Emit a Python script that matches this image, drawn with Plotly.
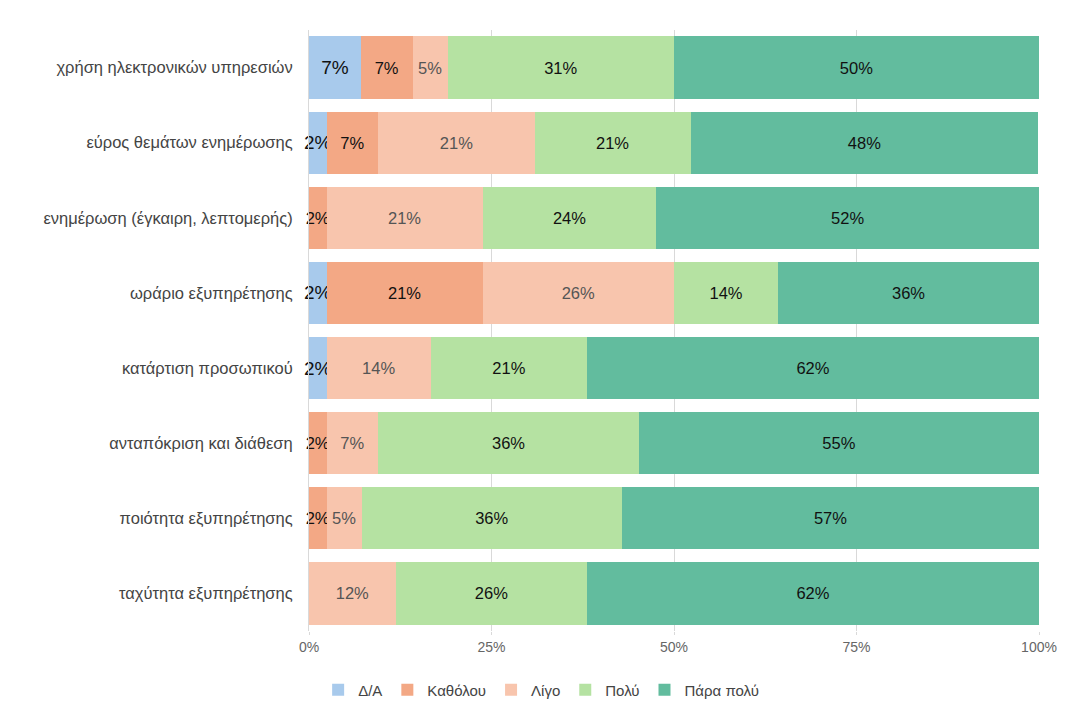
import plotly.graph_objects as go

categories = [
    "χρήση ηλεκτρονικών υπηρεσιών",
    "εύρος θεμάτων ενημέρωσης",
    "ενημέρωση (έγκαιρη, λεπτομερής)",
    "ωράριο εξυπηρέτησης",
    "κατάρτιση προσωπικού",
    "ανταπόκριση και διάθεση",
    "ποιότητα εξυπηρέτησης",
    "ταχύτητα εξυπηρέτησης",
]

series_names = ["Δ/Α", "Καθόλου", "Λίγο", "Πολύ", "Πάρα πολύ"]

da = [7.1, 2.4, 0.0, 2.4, 2.4, 0.0, 0.0, 0.0]
katholou = [7.1, 7.1, 2.4, 21.4, 0.0, 2.4, 2.4, 0.0]
ligo = [4.8, 21.4, 21.4, 26.2, 14.3, 7.1, 4.8, 11.9]
poly = [31.0, 21.4, 23.8, 14.3, 21.4, 35.7, 35.7, 26.2]
para_poly = [50.0, 47.6, 52.4, 35.7, 61.9, 54.8, 57.1, 61.9]

tick_vals = [0, 25, 50, 75, 100]
tick_text = ["0%", "25%", "50%", "75%", "100%"]

colors = ["#A8CAEC", "#F3A885", "#F8C5AD", "#B5E2A2", "#62BC9E"]
text_colors = ["#111111", "#111111", "#555555", "#111111", "#111111"]
text_sizes = [19, 16.5, 16.5, 16.5, 16.5]

FONT = "Liberation Sans, Arial, Helvetica, sans-serif"

fig = go.Figure()
for name, vals, col, tcol, tsz in zip(series_names, [da, katholou, ligo, poly, para_poly],
                                      colors, text_colors, text_sizes):
    fig.add_trace(go.Bar(
        y=categories,
        x=[v if v > 0 else None for v in vals],
        name=name,
        orientation="h",
        marker=dict(color=col, line=dict(width=0)),
        text=[f"{round(v):d}%" if v > 0 else "" for v in vals],
        textposition="inside",
        insidetextanchor="middle",
        textangle=0,
        constraintext="none",
        textfont=dict(color=tcol, size=tsz, family=FONT),
        hoverinfo="skip",
        cliponaxis=False,
    ))

fig.update_layout(
    barmode="stack",
    bargap=0.17,
    width=1076,
    height=730,
    margin=dict(l=301, r=45, t=22, b=107),
    paper_bgcolor="white",
    plot_bgcolor="white",
    font=dict(family=FONT, size=15, color="#444444"),
    xaxis=dict(
        range=[0, 100],
        tickvals=tick_vals,
        ticktext=tick_text,
        showgrid=True,
        gridcolor="#D9D9D9",
        gridwidth=1,
        zeroline=False,
        tickfont=dict(size=14, color="#666666"),
        ticks="outside",
        ticklen=3,
        tickcolor="#D9D9D9",
        fixedrange=True,
    ),
    yaxis=dict(
        autorange="reversed",
        showline=True,
        linecolor="#D9D9D9",
        linewidth=1,
        tickfont=dict(size=16.5, color="#444444"),
        ticks="",
        ticklabelstandoff=12,
    ),
    legend=dict(
        orientation="h",
        x=0.318,
        xanchor="center",
        y=-0.098,
        yanchor="middle",
        font=dict(size=15, color="#444444"),
        itemwidth=30,
        traceorder="normal",
    ),
)

fig.write_html("out.html")
